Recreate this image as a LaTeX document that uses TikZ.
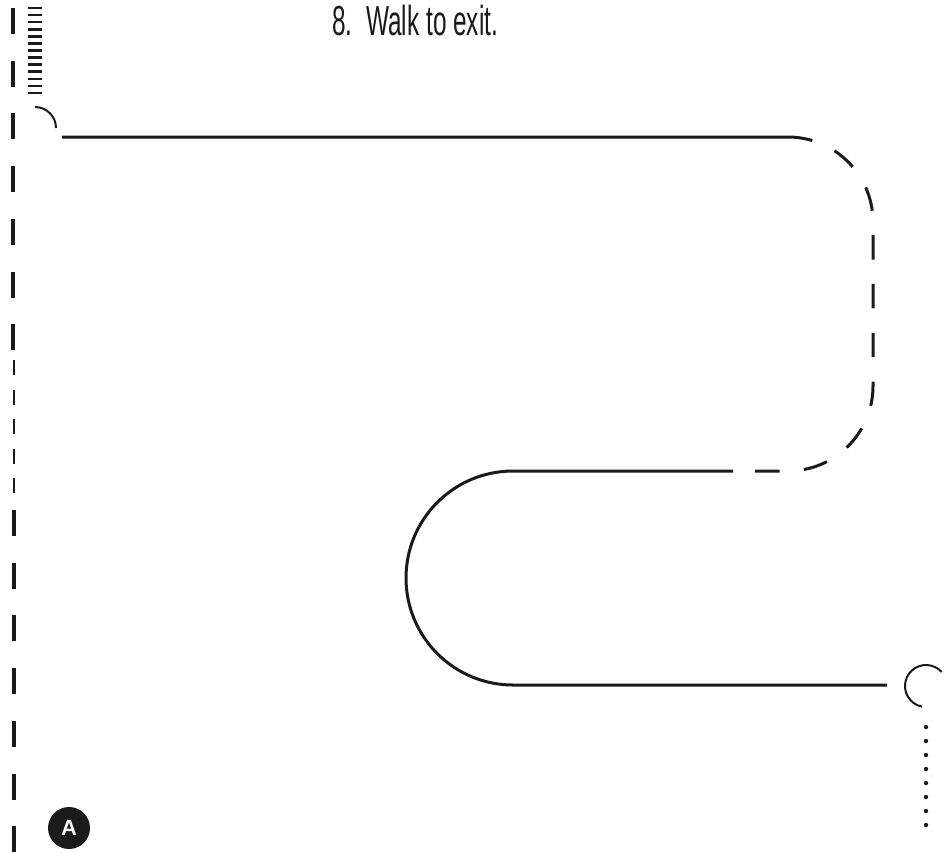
\documentclass[tikz,border=0pt]{standalone}
\usepackage{fontspec}
\setmainfont{Liberation Sans}
\usepackage{tikz}
\usetikzlibrary{positioning,calc}
\definecolor{inkblack}{RGB}{26,26,26}

\begin{document}
\begin{tikzpicture}[
    x=0.5pt,y=-0.5pt,
    route/.style={draw=inkblack,line width=1.5pt},
    routedash/.style={route,dash pattern=on 12.2pt off 12.2pt,dash phase=11pt},
    wallthick/.style={draw=inkblack,line width=2pt,dash pattern=on 13pt off 13.35pt},
    wallthin/.style={draw=inkblack,line width=1pt,dash pattern=on 7.5pt off 7.25pt},
    rung/.style={draw=inkblack,line width=1.3pt},
    hook/.style={draw=inkblack,line width=1pt},
    dot/.style={fill=inkblack},
    badge/.style={circle,fill=inkblack,minimum size=21pt,inner sep=0pt,
                  text=white,font=\fontsize{11}{11}\selectfont\bfseries},
    title/.style={anchor=base west,inner sep=0pt,text=inkblack,
                  font=\fontsize{21}{21}\selectfont},
  ]
    \useasboundingbox (0,0) rectangle (945,852);
    \node[title](step8) at (332,35){\scalebox{0.58}[1]{8.\ \ Walk to exit.}};
    \draw[wallthick](13,8)--(13,350);
    \draw[wallthin](14,360)--(14,493);
    \draw[wallthick](14,510)--(14,852);
    \foreach \i in {0,...,12}
      \draw[rung](28,8+7.08*\i)--(42,8+7.08*\i);
    \coordinate (hookstart) at (35,107);
    \draw[hook](hookstart) arc[start angle=-90,end angle=0,radius=21];
    \coordinate (start) at (62,137);
    \coordinate (bendtop) at (788,137);
    \coordinate (lowright) at (733,471);
    \coordinate (loopin) at (513,471);
    \coordinate (loopout) at (513,685);
    \coordinate (finish) at (887,685);
    \draw[route](start)--(bendtop) arc[start angle=-90,end angle=-75,radius=85];
    \draw[routedash]($(bendtop)+(0,85)+(-75:85)$)
      arc[start angle=-75,end angle=0,radius=85]
      --++(0,164) arc[start angle=0,end angle=90,radius=85]
      --(lowright);
    \draw[route](lowright)--(loopin)
      arc[start angle=-90,end angle=-270,radius=107]
      --(finish);
    \coordinate (exitring) at (926,686);
    \draw[hook]($(exitring)+(-42:21)$) arc[start angle=-42,end angle=-259,radius=21];
    \foreach \i in {0,...,7}
      \fill[dot](926,727+14*\i) circle[radius=2.2];
    \node[badge](plana) at (69,828){A};
  \end{tikzpicture}
\end{document}
